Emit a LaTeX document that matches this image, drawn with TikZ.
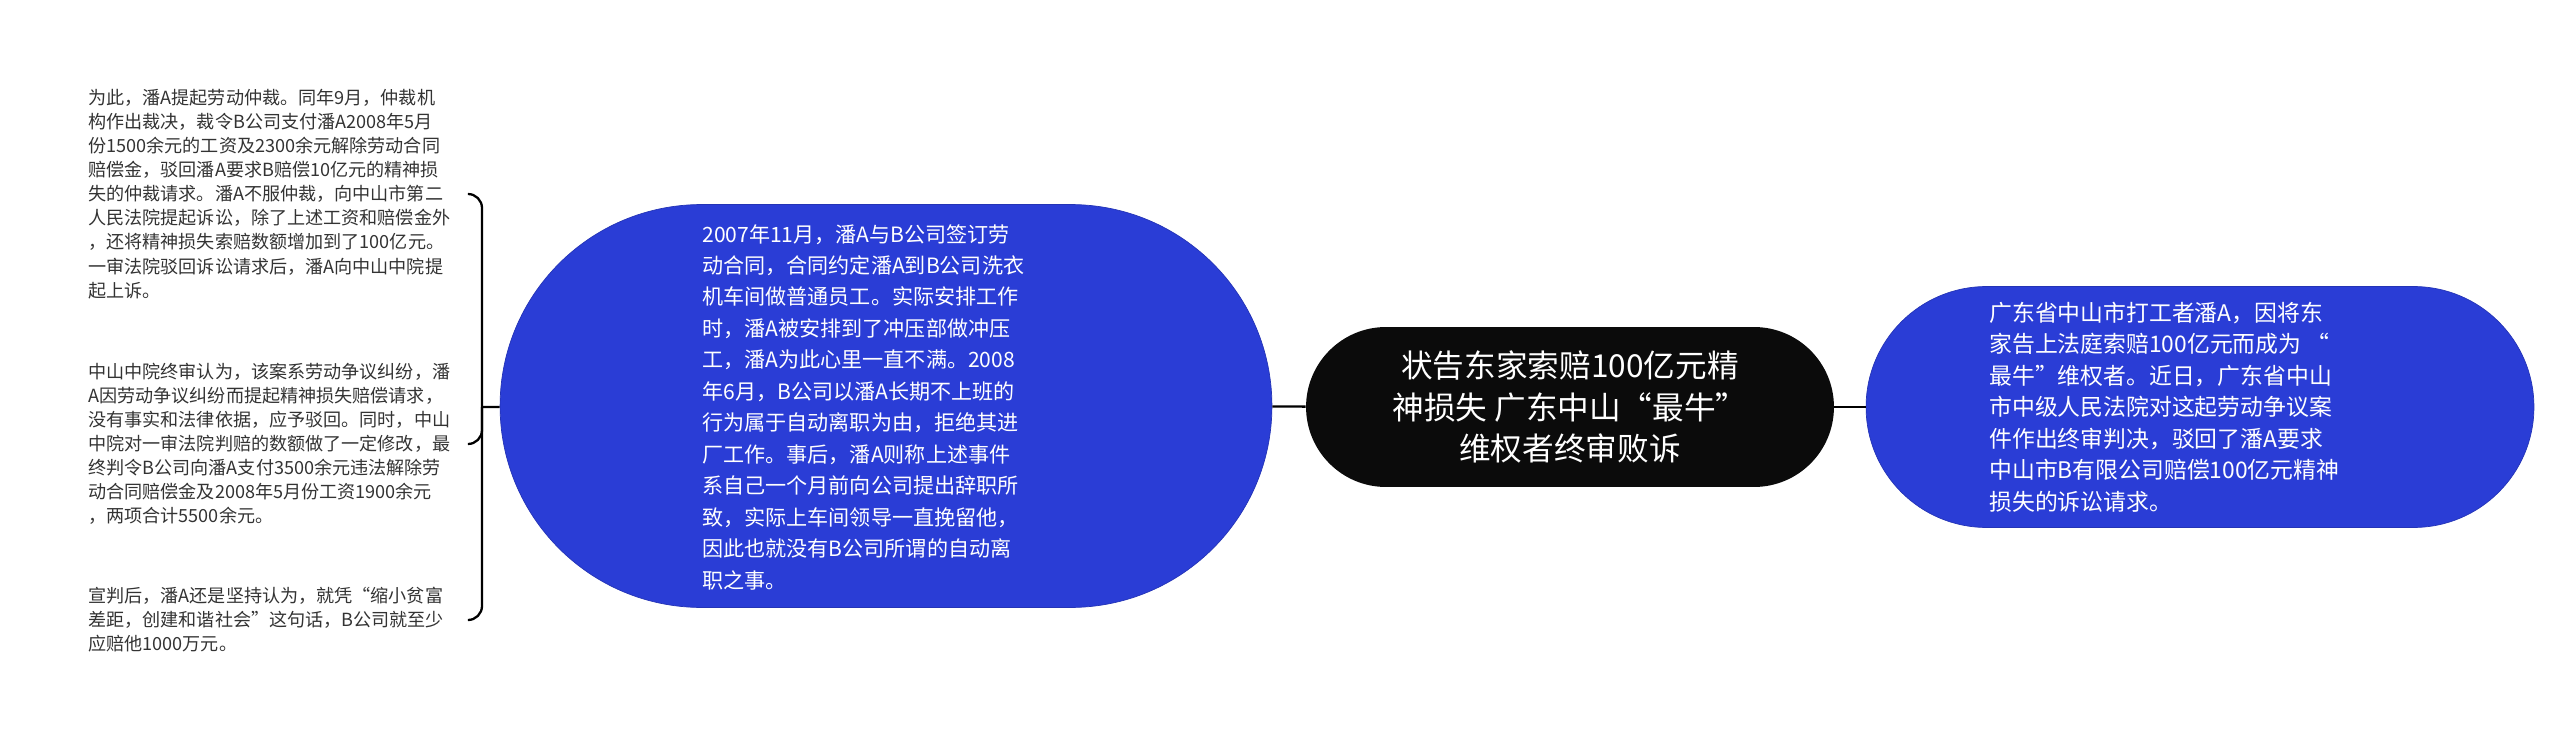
\documentclass[tikz,border=0pt]{standalone}
\usepackage{fontspec}
\setmainfont{Noto Sans CJK SC}
\usetikzlibrary{positioning,calc}
\definecolor{Bc}{HTML}{2A3DD6}
\definecolor{Kc}{HTML}{0B0B0B}
\definecolor{Tc}{HTML}{333333}
\tikzset{
  root/.style={rectangle, fill=Kc, text=white, rounded corners=1.6cm, minimum width=10.56cm, minimum height=3.2cm, align=center, inner sep=0pt, font=\fontsize{18}{23.5}\selectfont},
  branch/.style={rectangle, fill=Bc, draw=Bc!85!black, thin, inner sep=0pt},
  btext/.style={text=white, align=left, inner sep=0pt, font=\fontsize{13}{17.9}\selectfont},
  leaf/.style={text=Tc, align=left, text width=7.6cm, inner sep=0pt, font=\fontsize{10.3}{13.7}\selectfont},
  link/.style={line width=1.3pt, black},
}

\begin{document}
\begin{tikzpicture}[x=0.02cm, y=0.02cm]
  \useasboundingbox (0,0) rectangle (2560,-743);
  % centre
  \node[root] (root) at (1570,-407) {状告东家索赔100亿元精\\神损失 广东中山“最牛”\\维权者终审败诉};
  % right branch
  \node[branch, minimum width=13.36cm, minimum height=4.82cm, rounded corners=2.41cm] (summary) at (2200,-407) {};
  \node[btext, anchor=west] (summarytxt) at (1989,-407) {广东省中山市打工者潘A，因将东\\家告上法庭索赔100亿元而成为 “\\最牛”维权者。近日，广东省中山\\市中级人民法院对这起劳动争议案\\件作出终审判决，驳回了潘A要求\\中山市B有限公司赔偿100亿元精神\\损失的诉讼请求。};
  % left branch
  \node[branch, minimum width=15.44cm, minimum height=8.06cm, rounded corners=4.03cm] (detail) at (886,-406) {};
  \node[btext, anchor=west, font=\fontsize{12}{17.9}\selectfont] (detailtxt) at (702,-407) {2007年11月，潘A与B公司签订劳\\动合同，合同约定潘A到B公司洗衣\\机车间做普通员工。实际安排工作\\时，潘A被安排到了冲压部做冲压\\工，潘A为此心里一直不满。2008\\年6月，B公司以潘A长期不上班的\\行为属于自动离职为由，拒绝其进\\厂工作。事后，潘A则称上述事件\\系自己一个月前向公司提出辞职所\\致，实际上车间领导一直挽留他，\\因此也就没有B公司所谓的自动离\\职之事。};
  % leaves
  \node[leaf, anchor=west] (ruling1) at (88,-194) {为此，潘A提起劳动仲裁。同年9月，仲裁机\\构作出裁决，裁令B公司支付潘A2008年5月\\份1500余元的工资及2300余元解除劳动合同\\赔偿金，驳回潘A要求B赔偿10亿元的精神损\\失的仲裁请求。潘A不服仲裁，向中山市第二\\人民法院提起诉讼，除了上述工资和赔偿金外\\，还将精神损失索赔数额增加到了100亿元。\\一审法院驳回诉讼请求后，潘A向中山中院提\\起上诉。};
  \node[leaf, anchor=west] (ruling2) at (88,-444) {中山中院终审认为，该案系劳动争议纠纷，潘\\A因劳动争议纠纷而提起精神损失赔偿请求，\\没有事实和法律依据，应予驳回。同时，中山\\中院对一审法院判赔的数额做了一定修改，最\\终判令B公司向潘A支付3500余元违法解除劳\\动合同赔偿金及2008年5月份工资1900余元\\，两项合计5500余元。};
  \node[leaf, anchor=west] (ruling3) at (88,-620) {宣判后，潘A还是坚持认为，就凭“缩小贫富\\差距，创建和谐社会”这句话，B公司就至少\\应赔他1000万元。};
  \coordinate (fork) at (482,-407);
  % connectors
  \draw[link] (root) -- (summary);
  \draw[link] (root) -- (detail);
  \draw[link] (detail) -- (fork);
  \foreach \c in {ruling1,ruling2,ruling3}
    \draw[link, rounded corners=0.28cm] (fork) |- (\c.east);
\end{tikzpicture}
\end{document}
